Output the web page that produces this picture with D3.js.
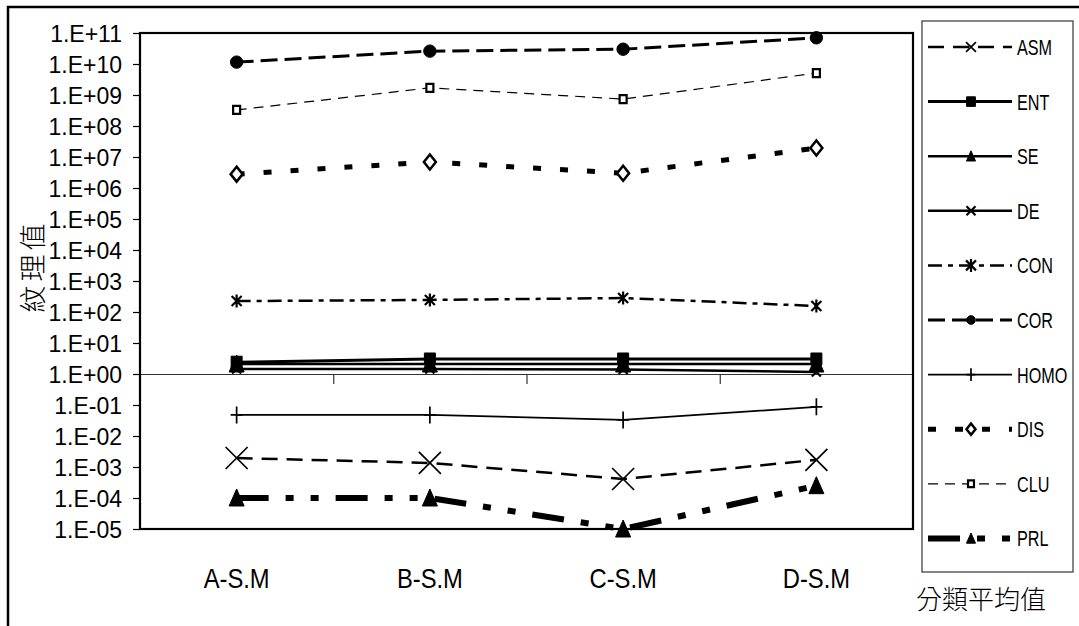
<!DOCTYPE html>
<html>
<head>
<meta charset="utf-8">
<script src="https://cdn.jsdelivr.net/npm/d3@7"></script>
<style>
  body { margin: 0; background: #fff; }
  svg { display: block; }
  text { font-family: "Liberation Sans", Arial, sans-serif; fill: #000; }
  .cjk { font-family: "Noto Sans CJK TC", "Noto Sans CJK SC", sans-serif; font-weight: 300; }
</style>
</head>
<body>
<svg id="chart" width="1079" height="626"></svg>
<script>
// categories and values
var categories = ["A-S.M", "B-S.M", "C-S.M", "D-S.M"];
var seriesNames = ["ASM", "ENT", "SE", "DE", "CON", "COR", "HOMO", "DIS", "CLU", "PRL"];

var asmValues = [1.95e-3, 1.35e-3, 4.1e-4, 1.7e-3];
var entValues = [2.4, 3.05, 3.05, 3.05];
var seValues = [2.1, 2.1, 2.1, 2.1];
var deValues = [1.45, 1.45, 1.4, 1.16];
var conValues = [225, 245, 282, 156];
var corValues = [1.15e10, 2.6e10, 3.0e10, 7.0e10];
var homoValues = [0.048, 0.048, 0.033, 0.087];
var disValues = [2.8e6, 6.9e6, 3.0e6, 1.95e7];
var cluValues = [3.3e8, 1.7e9, 7.4e8, 5.1e9];
var prlValues = [1e-4, 1e-4, 1e-5, 2.5e-4];

var yTicks = [1e11, 1e10, 1e9, 1e8, 1e7, 1e6, 1e5, 1e4, 1e3, 1e2, 1e1, 1e0,
  1e-1, 1e-2, 1e-3, 1e-4, 1e-5];
var yTickLabels = ["1.E+11", "1.E+10", "1.E+09", "1.E+08", "1.E+07", "1.E+06",
  "1.E+05", "1.E+04", "1.E+03", "1.E+02", "1.E+01", "1.E+00", "1.E-01",
  "1.E-02", "1.E-03", "1.E-04", "1.E-05"];

var yTitle = "紋理值";
var xTitle = "分類平均值";

// line + marker look per series
var styles = {
  ASM:  { marker: "bigx", width: 2.5, dash: "16,9", legendScale: 0.45 },
  ENT:  { marker: "square", width: 3, dash: null, legendScale: 0.8 },
  SE:   { marker: "triangle", width: 2.5, dash: null, legendScale: 0.6 },
  DE:   { marker: "x", width: 2.5, dash: null, legendScale: 1 },
  CON:  { marker: "star", width: 2.5, dash: "14,6,5,6", legendScale: 1 },
  COR:  { marker: "circle", width: 3, dash: "17,7", legendScale: 0.7 },
  HOMO: { marker: "plus", width: 1.8, dash: null, legendScale: 0.75 },
  DIS:  { marker: "diamond", width: 5, dash: "8,19", legendScale: 0.75 },
  CLU:  { marker: "hsquare", width: 1.2, dash: "10,7", legendScale: 0.85 },
  PRL:  { marker: "triangle", width: 6, dash: "32,17,8,17,8,17", legendScale: 0.6 }
};

var valuesByName = {
  ASM: asmValues, ENT: entValues, SE: seValues, DE: deValues, CON: conValues,
  COR: corValues, HOMO: homoValues, DIS: disValues, CLU: cluValues, PRL: prlValues
};

var series = seriesNames.map(function (name) {
  return { name: name, values: valuesByName[name], style: styles[name] };
});

var svg = d3.select("#chart");
var plot = { left: 140, right: 913, top: 33, bottom: 529 };

var x = d3.scaleBand().domain(categories).range([plot.left, plot.right]);
var xPos = function (c) { return x(c) + x.bandwidth() / 2; };
var y = d3.scaleLog().domain([1e-5, 1e11]).range([plot.bottom, plot.top]);

// outer chart frame (runs off the picture on right and bottom)
svg.append("rect")
  .attr("x", 8).attr("y", 7).attr("width", 1200).attr("height", 800)
  .attr("fill", "none").attr("stroke", "#000").attr("stroke-width", 2.5);

// horizontal-squeeze helper for the narrow fonts
var squeezedText = function (parent, tx, ty, sx, str, size, anchor) {
  return parent.append("text")
    .attr("transform", "translate(" + tx + "," + ty + ") scale(" + sx + ",1)")
    .attr("text-anchor", anchor)
    .style("font-size", size + "px")
    .text(str);
};

// y axis
var yAxis = svg.append("g")
  .attr("transform", "translate(" + plot.left + ",0)")
  .call(d3.axisLeft(y)
    .tickValues(yTicks)
    .tickFormat(function (d, i) { return yTickLabels[i]; })
    .tickSize(7)
    .tickPadding(11));
yAxis.select(".domain").remove();
yAxis.selectAll("line").attr("stroke", "#000").attr("stroke-width", 1.2);
yAxis.selectAll("text")
  .attr("font-family", null)
  .style("font-size", "23px")
  .attr("dy", "0.36em");

// x axis crossing at 1
var xBounds = d3.scaleLinear().domain([0, categories.length]).range([plot.left, plot.right]);
var xAxis = svg.append("g")
  .attr("transform", "translate(0," + y(1) + ")")
  .call(d3.axisBottom(xBounds)
    .tickValues(d3.range(1, categories.length))
    .tickFormat("")
    .tickSize(10)
    .tickSizeOuter(0));
xAxis.select(".domain").attr("stroke", "#333").attr("stroke-width", 1.2);
xAxis.selectAll("line").attr("stroke", "#333").attr("stroke-width", 1.2);

// category labels
categories.forEach(function (c) {
  squeezedText(svg, xPos(c), 588, 0.88, c, 27, "middle");
});

// markers
var drawMarker = function (parent, type, cx, cy, s) {
  var g = parent.append("g")
    .attr("transform", "translate(" + cx + "," + cy + ") scale(" + s + ")");
  var shape;
  if (type === "bigx") {
    shape = g.append("path").attr("d", "M-11,-11L11,11M-11,11L11,-11")
      .attr("fill", "none").attr("stroke-width", 1.7);
  } else if (type === "square") {
    shape = g.append("rect").attr("x", -5.5).attr("y", -6).attr("width", 11).attr("height", 12)
      .attr("fill", "#000");
  } else if (type === "triangle") {
    shape = g.append("path").attr("d", "M0,-9L7.5,8L-7.5,8Z").attr("fill", "#000");
  } else if (type === "x") {
    shape = g.append("path").attr("d", "M-4.5,-4.5L4.5,4.5M-4.5,4.5L4.5,-4.5")
      .attr("fill", "none").attr("stroke-width", 2.2);
  } else if (type === "star") {
    shape = g.append("path").attr("d", "M-5,-5L5,5M-5,5L5,-5M0,-6.5L0,6.5")
      .attr("fill", "none").attr("stroke-width", 2.2);
  } else if (type === "circle") {
    shape = g.append("circle").attr("r", 6.2).attr("fill", "#000");
  } else if (type === "plus") {
    shape = g.append("path").attr("d", "M-6,0H6M0,-8.5V8.5")
      .attr("fill", "none").attr("stroke-width", 1.7);
  } else if (type === "diamond") {
    shape = g.append("path").attr("d", "M0,-7.5L6,0L0,7.5L-6,0Z")
      .attr("fill", "#fff").attr("stroke-width", 2.5);
  } else if (type === "hsquare") {
    shape = g.append("rect").attr("x", -3.5).attr("y", -4).attr("width", 7).attr("height", 8)
      .attr("fill", "#fff").attr("stroke-width", 2.2);
  }
  shape.attr("stroke", "#000").attr("vector-effect", "non-scaling-stroke");
};

// series lines + markers
var line = d3.line()
  .x(function (d, i) { return xPos(categories[i]); })
  .y(function (d) { return y(d); });

var seriesG = svg.append("g");
series.forEach(function (s) {
  seriesG.append("path")
    .attr("d", line(s.values))
    .attr("fill", "none")
    .attr("stroke", "#000")
    .attr("stroke-width", s.style.width)
    .attr("stroke-dasharray", s.style.dash);
  s.values.forEach(function (v, i) {
    drawMarker(seriesG, s.style.marker, xPos(categories[i]), y(v), 1);
  });
});

// plot border
svg.append("rect")
  .attr("x", plot.left).attr("y", plot.top)
  .attr("width", plot.right - plot.left).attr("height", plot.bottom - plot.top)
  .attr("fill", "none").attr("stroke", "#000").attr("stroke-width", 2.2);

// y title
svg.append("text")
  .attr("class", "cjk")
  .attr("transform", "translate(43,266) rotate(-90)")
  .attr("text-anchor", "middle")
  .style("font-size", "27px")
  .style("letter-spacing", "4px")
  .text(yTitle);

// legend
var legend = { left: 922, top: 21, right: 1073, bottom: 572, firstY: 47, step: 54.6 };
svg.append("rect")
  .attr("x", legend.left).attr("y", legend.top)
  .attr("width", legend.right - legend.left).attr("height", legend.bottom - legend.top)
  .attr("fill", "none").attr("stroke", "#444").attr("stroke-width", 1.3);

series.forEach(function (s, i) {
  var ly = legend.firstY + i * legend.step;
  svg.append("line")
    .attr("x1", 928).attr("x2", 1012).attr("y1", ly).attr("y2", ly)
    .attr("stroke", "#000")
    .attr("stroke-width", s.style.width)
    .attr("stroke-dasharray", s.style.dash);
  drawMarker(svg, s.style.marker, 971, ly, s.style.legendScale);
  squeezedText(svg, 1017, ly + 8, 0.72, s.name, 22.5, "start");
});

// category-average caption below legend
svg.append("text")
  .attr("class", "cjk")
  .attr("x", 916).attr("y", 609)
  .style("font-size", "26px")
  .text(xTitle);
</script>
</body>
</html>
